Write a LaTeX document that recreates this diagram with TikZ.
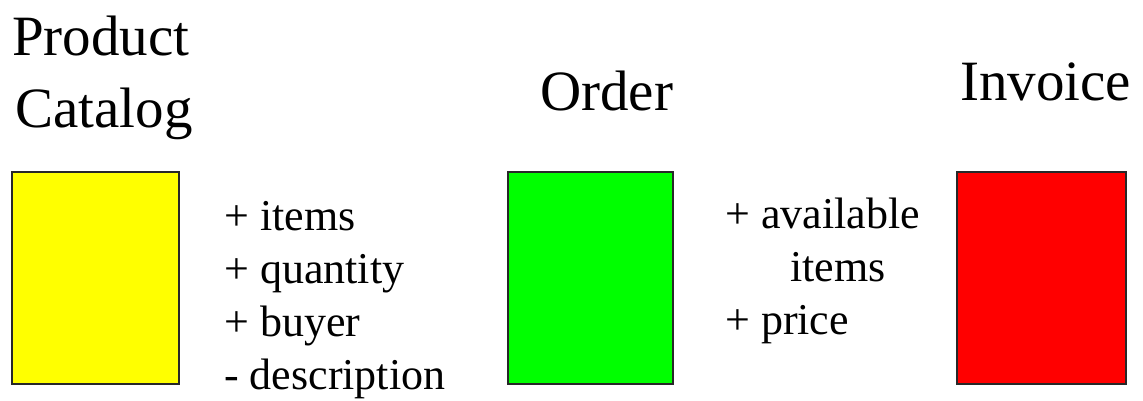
\documentclass[tikz,border=0pt]{standalone}
\usepackage{fontspec}
\setmainfont{Liberation Serif}
\definecolor{boxyellow}{RGB}{255,255,0}
\definecolor{boxgreen}{RGB}{0,255,0}
\definecolor{boxred}{RGB}{255,0,0}
\definecolor{boxedge}{RGB}{40,40,40}
\tikzset{
  classbox/.style={draw=boxedge, line width=1.5pt},
  title/.style={anchor=base west, inner sep=0pt, font=\fontsize{57}{68}\selectfont},
  attr/.style={anchor=base west, inner sep=0pt, font=\fontsize{44}{53}\selectfont}
}
\begin{document}
\begin{tikzpicture}[x=1pt,y=-1pt]
\useasboundingbox (0,0) rectangle (1143,400);
% boxes
\draw[classbox, fill=boxyellow] (12,172) rectangle (179,384);
\draw[classbox, fill=boxgreen] (508,172) rectangle (673,384);
\draw[classbox, fill=boxred] (957,172) rectangle (1126,384);
% titles
\node[title] (pc1) at (12,55) {Product};
\node[title] (pc2) at (15,127) {Catalog};
\node[title] (ord) at (540,110) {Order};
\node[title] (inv) at (960,100) {Invoice};
% attributes between catalog and order
\node[attr] (a1) at (224,230) {+ items};
\node[attr] (a2) at (224,283) {+ quantity};
\node[attr] (a3) at (224,336) {+ buyer};
\node[attr] (a4) at (224,389) {- description};
% attributes between order and invoice
\node[attr] (b1) at (725,228) {+ available};
\node[attr] (b2) at (790,281) {items};
\node[attr] (b3) at (725,334) {+ price};
\end{tikzpicture}
\end{document}
